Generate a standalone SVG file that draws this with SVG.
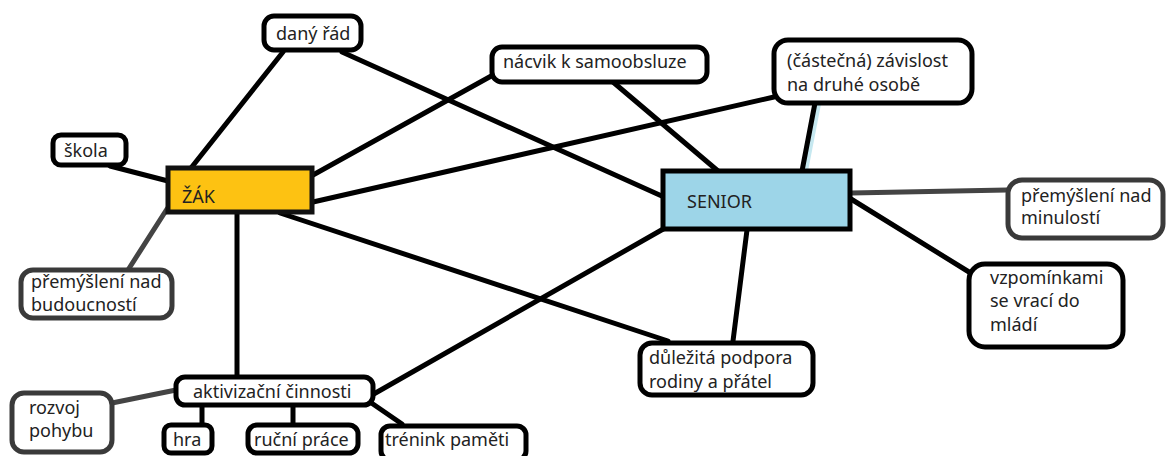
<svg xmlns="http://www.w3.org/2000/svg" width="1166" height="456" viewBox="0 0 1166 456">
<style>
.c{stroke:#000;stroke-width:5;fill:none;stroke-linecap:round}
.g{stroke:#444;stroke-width:5;fill:none;stroke-linecap:round}
.b{fill:#fff;stroke:#000;stroke-width:5}
.bg{fill:#fff;stroke:#3a3a3a;stroke-width:5}
text{font-family:"Noto Sans","Open Sans",sans-serif;font-size:18px;fill:#222}
</style>
<rect width="1166" height="456" fill="#fff"/>
<g id="connectors">
<line class="c" x1="283" y1="52" x2="191" y2="168"/>
<line class="c" x1="342" y1="52" x2="664" y2="197"/>
<line class="c" x1="110" y1="166" x2="168" y2="181"/>
<line class="g" x1="167" y1="209" x2="128" y2="270"/>
<line class="c" x1="313" y1="175" x2="493" y2="75"/>
<line class="c" x1="313" y1="202" x2="774" y2="97"/>
<line class="c" x1="280" y1="213" x2="668" y2="341"/>
<line class="c" x1="237" y1="213" x2="237" y2="377"/>
<line class="c" x1="613" y1="82" x2="718" y2="171"/>
<line x1="818" y1="104" x2="805" y2="171" stroke="#c6e8f0" stroke-width="6"/>
<line class="c" x1="815" y1="103" x2="802" y2="171"/>
<line class="g" x1="851" y1="193" x2="1007" y2="190"/>
<line class="c" x1="851" y1="199" x2="969" y2="272"/>
<line class="c" x1="747" y1="230" x2="733" y2="341"/>
<line class="c" x1="665" y1="228" x2="372" y2="395"/>
<line class="g" x1="176" y1="390" x2="112" y2="403"/>
<line class="c" x1="202" y1="405" x2="202" y2="425"/>
<line class="c" x1="293" y1="405" x2="293" y2="425"/>
<line class="c" x1="370" y1="402" x2="402" y2="424"/>
</g>
<g id="dany-rad"><rect class="b" x="264" y="16" width="97" height="34" rx="10"/><text x="276" y="40">daný řád</text></g>
<g id="skola"><rect class="b" x="53" y="135" width="73" height="30" rx="8"/><text x="64" y="157">škola</text></g>
<g id="zak"><rect x="168" y="168" width="144" height="44" fill="#fdc212" stroke="#111" stroke-width="5"/><text x="182" y="203" fill="#333">ŽÁK</text></g>
<g id="nacvik"><rect class="b" x="492" y="47" width="215" height="35" rx="10"/><text x="503" y="68">nácvik k samoobsluze</text></g>
<g id="zavislost"><rect class="b" x="774" y="40" width="198" height="63" rx="14"/><text x="787" y="67">(částečná) závislost</text><text x="787" y="91">na druhé osobě</text></g>
<g id="senior"><rect x="663" y="171" width="187" height="58" fill="#9dd5e8" stroke="#000" stroke-width="5"/><text x="687" y="208" fill="#333">SENIOR</text></g>
<g id="minulosti"><rect class="bg" x="1008" y="180" width="155" height="58" rx="14"/><text x="1021" y="202">přemýšlení nad</text><text x="1021" y="224">minulostí</text></g>
<g id="vzpominkami"><rect class="b" x="969" y="264" width="154" height="83" rx="16"/><text x="990" y="284">vzpomínkami</text><text x="990" y="307">se vrací do</text><text x="990" y="331">mládí</text></g>
<g id="dulezita"><rect class="b" x="640" y="343" width="173" height="52" rx="12"/><text x="649" y="364">důležitá podpora</text><text x="649" y="388">rodiny a přátel</text></g>
<g id="budoucnosti"><rect class="bg" x="21" y="270" width="151" height="48" rx="12"/><text x="31" y="288">přemýšlení nad</text><text x="31" y="311">budoucností</text></g>
<g id="aktivizacni"><rect class="b" x="176" y="377" width="197" height="28" rx="9"/><text x="193" y="398">aktivizační činnosti</text></g>
<g id="rozvoj"><rect class="bg" x="12" y="393" width="100" height="59" rx="12"/><text x="29" y="414">rozvoj</text><text x="29" y="437">pohybu</text></g>
<g id="hra"><rect class="b" x="164" y="425" width="48" height="28" rx="7"/><text x="173" y="446">hra</text></g>
<g id="rucni"><rect class="b" x="248" y="425" width="110" height="28" rx="9"/><text x="254" y="446">ruční práce</text></g>
<g id="trenink"><rect class="b" x="381" y="426" width="145" height="34" rx="9"/><text x="385" y="446">trénink paměti</text></g>
</svg>
